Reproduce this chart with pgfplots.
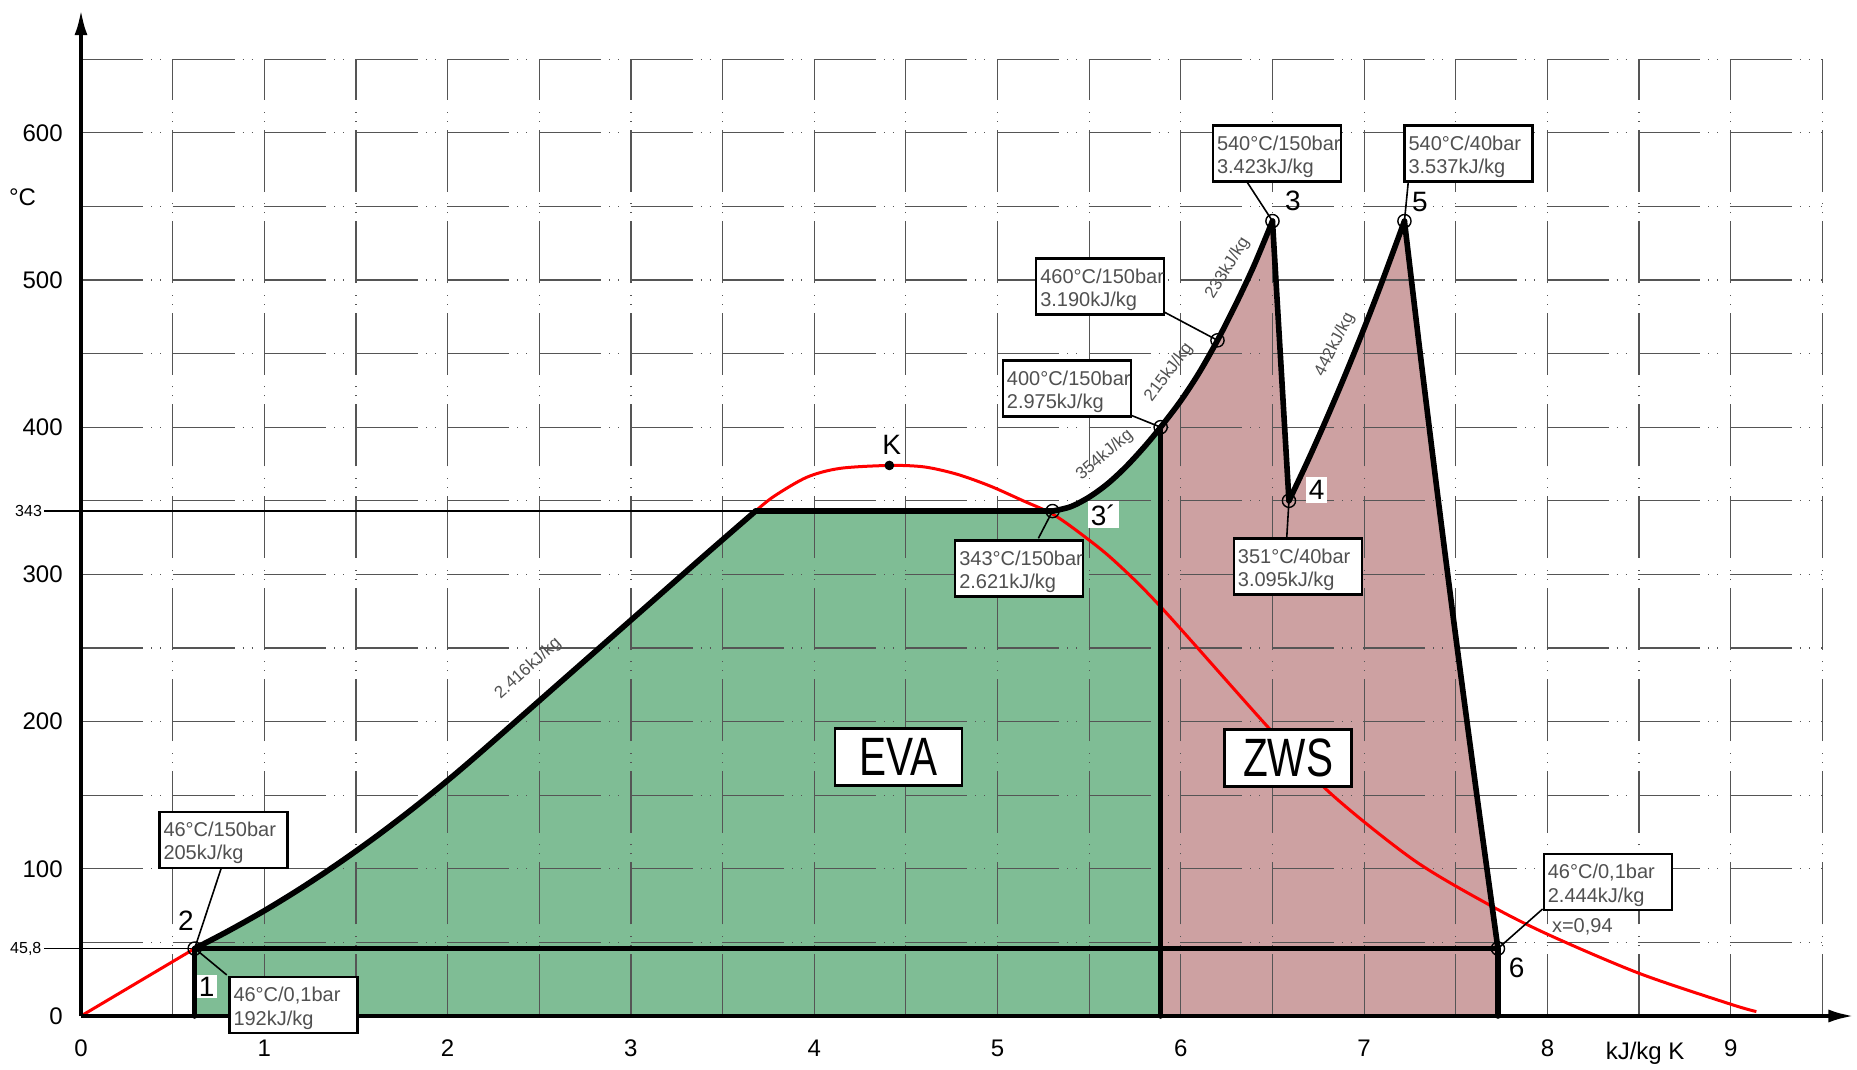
\documentclass[border=0pt]{standalone}
\usepackage{fontspec}
\setmainfont{Liberation Sans}
\usepackage{pgfplots}
\pgfplotsset{compat=1.18}
\usetikzlibrary{arrows.meta}
\definecolor{evagreen}{RGB}{127,189,149}
\definecolor{zwspink}{RGB}{205,161,162}
\definecolor{boxgray}{RGB}{80,80,80}
\definecolor{gridgray}{RGB}{85,85,85}
\newcommand\tickfont{\fontsize{12}{14}\selectfont}
\newcommand\smallfont{\fontsize{8}{9}\selectfont}
\newcommand\boxfont{\fontsize{10}{11.7}\selectfont}
\newcommand\ptfont{\fontsize{14}{16}\selectfont}
\newcommand\rotfont{\fontsize{8.5}{10}\selectfont}
\begin{document}
\begin{tikzpicture}[
  cyc/.style={line width=2.8pt, black, line cap=round, line join=round},
  gridl/.style={draw=gridgray, line width=0.6pt, dash pattern=on 31pt off 4pt on 0.5pt off 4pt on 0.5pt off 5.8pt},
  infobox/.style={draw=black, line width=1.2pt, fill=white, anchor=north west, inner sep=0pt, minimum width=64pt, minimum height=28pt, text width=60pt, align=left, font=\boxfont, text=boxgray},
  bigbox/.style={draw=black, line width=1.3pt, fill=white, inner sep=0pt, minimum width=63.5pt, minimum height=28.5pt},
  leader/.style={line width=0.8pt, black},
]
\begin{axis}[scale only axis, width=928.5pt, height=535pt,
  xmin=-0.4419, xmax=9.689, ymin=-36.68, ymax=690.2,
  hide axis, clip=false]
\path (rel axis cs:0,0) rectangle (rel axis cs:1,1);

% --- areas
\addplot[draw=none, fill=evagreen] coordinates {(0.62,0) (0.62,45.8) (0.8,57.5) (1.0,71.5) (1.2,86.8) (1.4,103.3) (1.6,121) (1.8,139.9) (2.0,160) (2.2,181.3) (2.6,225.1) (3.0,268.9) (3.4,312.7) (3.68,343) (5.30,343) (5.40,346) (5.50,352.5) (5.60,361.5) (5.70,373) (5.80,386.5) (5.89,400) (5.89,0)} -- cycle;
\addplot[draw=none, fill=zwspink] coordinates {(5.89,0) (5.89,400) (6.00,418) (6.10,437) (6.20,459) (6.30,483.5) (6.40,510) (6.50,540) (6.59,350) (6.69,376.4) (6.79,404.3) (6.89,433.5) (6.99,464.1) (7.09,496.2) (7.22,540) (7.306,450) (7.405,350) (7.508,250) (7.615,150) (7.670,100) (7.73,45.8) (7.73,0)} -- cycle;

% --- grid
\pgfplotsinvokeforeach{0.5,1,...,9.5}{\draw[gridl] (axis cs:#1,0) -- (axis cs:#1,650);}
\pgfplotsinvokeforeach{50,100,...,650}{\draw[gridl] (axis cs:0,#1) -- (axis cs:9.5,#1);}

% --- thin reference lines
\draw[line width=0.6pt] (axis cs:-0.2,343) -- (axis cs:3.68,343);
\draw[line width=0.6pt] (axis cs:-0.2,45.8) -- (axis cs:0.62,45.8);

% --- saturation curve
\addplot[red, line width=1.5pt] coordinates {(0,0) (0.62,45.8)};
\addplot[red, line width=1.5pt, smooth] coordinates {(3.68,343) (3.78,353) (3.96,366) (4.14,372) (4.41,374) (4.60,373) (4.78,368) (4.96,360) (5.14,350) (5.30,341) (5.45,328) (5.63,310) (5.89,278) (6.47,197) (6.81,152) (7.27,106) (7.69,75) (8.01,55) (8.5,29) (9.0,8) (9.14,3)};

% --- cycle lines
\addplot[cyc] coordinates {(0.62,0) (0.62,45.8) (7.73,45.8) (7.73,0)};
\addplot[cyc, smooth] coordinates {(0.62,45.8) (0.8,57.5) (1.0,71.5) (1.2,86.8) (1.4,103.3) (1.6,121) (1.8,139.9) (2.0,160) (2.2,181.3) (2.6,225.1) (3.0,268.9) (3.4,312.7) (3.68,343)};
\addplot[cyc] coordinates {(3.68,343) (5.30,343)};
\addplot[cyc, smooth] coordinates {(5.30,343) (5.40,346) (5.50,352.5) (5.60,361.5) (5.70,373) (5.80,386.5) (5.89,400) (6.00,418) (6.10,437) (6.20,459) (6.30,483.5) (6.40,510) (6.50,540)};
\addplot[cyc] coordinates {(5.89,0) (5.89,400)};
\addplot[cyc] coordinates {(6.50,540) (6.59,350)};
\addplot[cyc, smooth] coordinates {(6.59,350) (6.69,376.4) (6.79,404.3) (6.89,433.5) (6.99,464.1) (7.09,496.2) (7.22,540)};
\addplot[cyc, smooth] coordinates {(7.22,540) (7.306,450) (7.405,350) (7.508,250) (7.615,150) (7.670,100) (7.73,45.8)};

% --- axes
\draw[line width=2pt, -{Latex[length=13pt,width=6.5pt]}] (axis cs:0,0) -- (axis cs:9.675,0);
\draw[line width=2pt, -{Latex[length=13pt,width=6.5pt]}] (axis cs:0,0) -- (axis cs:0,684);

% --- tick labels
\pgfplotsinvokeforeach{0,...,9}{\node[font=\tickfont, inner sep=0pt] at (axis cs:#1,-21.7) {#1};}
\pgfplotsinvokeforeach{0,100,...,600}{\node[font=\tickfont, anchor=east, inner sep=0pt] at (axis cs:-0.098,#1) {#1};}
\node[font=\smallfont, anchor=east, inner sep=0pt] at (axis cs:-0.211,343) {343};
\node[font=\smallfont, anchor=east, inner sep=0pt] at (axis cs:-0.214,45.8) {45,8};
\node[font=\tickfont, inner sep=0pt] at (axis cs:-0.319,556.4) {°C};
\node[font=\tickfont, inner sep=0pt] at (axis cs:8.533,-25.3) {kJ/kg K};

% --- leaders
\draw[leader] (axis cs:0.7676,101.4) -- (axis cs:0.62,45.8);
\draw[leader] (axis cs:0.795,27.9) -- (axis cs:0.631,44.8);
\draw[leader] (axis cs:5.223,324.5) -- (axis cs:5.30,343);
\draw[leader] (axis cs:5.714,408.8) -- (axis cs:5.89,400);
\draw[leader] (axis cs:5.905,478.5) -- (axis cs:6.20,459);
\draw[leader] (axis cs:6.360,566.8) -- (axis cs:6.50,540);
\draw[leader] (axis cs:7.241,566.8) -- (axis cs:7.22,540);
\draw[leader] (axis cs:6.578,325.2) -- (axis cs:6.59,350);
\draw[leader] (axis cs:7.974,72.7) -- (axis cs:7.73,45.8);

% --- state points
\addplot[only marks, mark=o, mark size=3.3pt, line width=0.7pt, black] coordinates {(0.62,45.8) (5.30,343) (5.89,400) (6.20,459) (6.50,540) (6.59,350) (7.22,540) (7.73,45.8)};
\addplot[only marks, mark=*, mark size=2.2pt, black] coordinates {(4.41,374)};

% --- point labels
\node[font=\ptfont, inner sep=0pt] at (axis cs:0.573,64.5) {2};
\node[font=\ptfont, fill=white, inner sep=1pt] at (axis cs:0.686,19.9) {1};
\node[font=\ptfont, inner sep=0pt] at (axis cs:6.612,553.7) {3};
\node[font=\ptfont, inner sep=0pt] at (axis cs:7.305,553.2) {5};
\node[font=\ptfont, fill=white, inner sep=1.5pt] at (axis cs:6.741,357.3) {4};
\node[font=\ptfont, fill=white, inner sep=1.5pt] at (axis cs:5.577,340.4) {3´};
\node[font=\ptfont, inner sep=0pt] at (axis cs:7.832,32.4) {6};
\node[font=\ptfont, inner sep=0pt] at (axis cs:4.423,387.9) {K};

% --- info boxes
\node[infobox] at (axis cs:0.4217,139.5) {\rule{0pt}{10.5pt}46°C/150bar\\205kJ/kg};
\node[infobox] at (axis cs:0.8036,27.2) {\rule{0pt}{10.5pt}46°C/0,1bar\\192kJ/kg};
\node[infobox] at (axis cs:4.763,323.8) {\rule{0pt}{10.5pt}343°C/150bar\\2.621kJ/kg};
\node[infobox] at (axis cs:5.023,446) {\rule{0pt}{10.5pt}400°C/150bar\\2.975kJ/kg};
\node[infobox] at (axis cs:5.205,515.4) {\rule{0pt}{10.5pt}460°C/150bar\\3.190kJ/kg};
\node[infobox] at (axis cs:6.169,605.8) {\rule{0pt}{10.5pt}540°C/150bar\\3.423kJ/kg};
\node[infobox] at (axis cs:7.214,605.8) {\rule{0pt}{10.5pt}540°C/40bar\\3.537kJ/kg};
\node[infobox] at (axis cs:6.283,325.2) {\rule{0pt}{10.5pt}351°C/40bar\\3.095kJ/kg};
\node[infobox] at (axis cs:7.974,110.9) {\rule{0pt}{10.5pt}46°C/0,1bar\\2.444kJ/kg};
\node[font=\boxfont, text=boxgray, anchor=west, inner sep=0pt] at (axis cs:8.023,60.7) {x=0,94};

% --- rotated heat labels
\node[font=\rotfont, text=boxgray, rotate=42, inner sep=0pt] at (axis cs:2.440,236) {2.416kJ/kg};
\node[font=\rotfont, text=boxgray, rotate=40, inner sep=0pt] at (axis cs:5.585,381) {354kJ/kg};
\node[font=\rotfont, text=boxgray, rotate=53, inner sep=0pt] at (axis cs:5.935,437) {215kJ/kg};
\node[font=\rotfont, text=boxgray, rotate=58, inner sep=0pt] at (axis cs:6.255,508) {233kJ/kg};
\node[font=\rotfont, text=boxgray, rotate=63, inner sep=0pt] at (axis cs:6.840,456) {442kJ/kg};

% --- area labels
\node[bigbox] at (axis cs:4.459,176.1) {\scalebox{0.75}[1]{\fontsize{27}{27}\selectfont EVA}};
\node[bigbox] at (axis cs:6.586,175.3) {\scalebox{0.75}[1]{\fontsize{27}{27}\selectfont ZWS}};
\end{axis}
\end{tikzpicture}
\end{document}
